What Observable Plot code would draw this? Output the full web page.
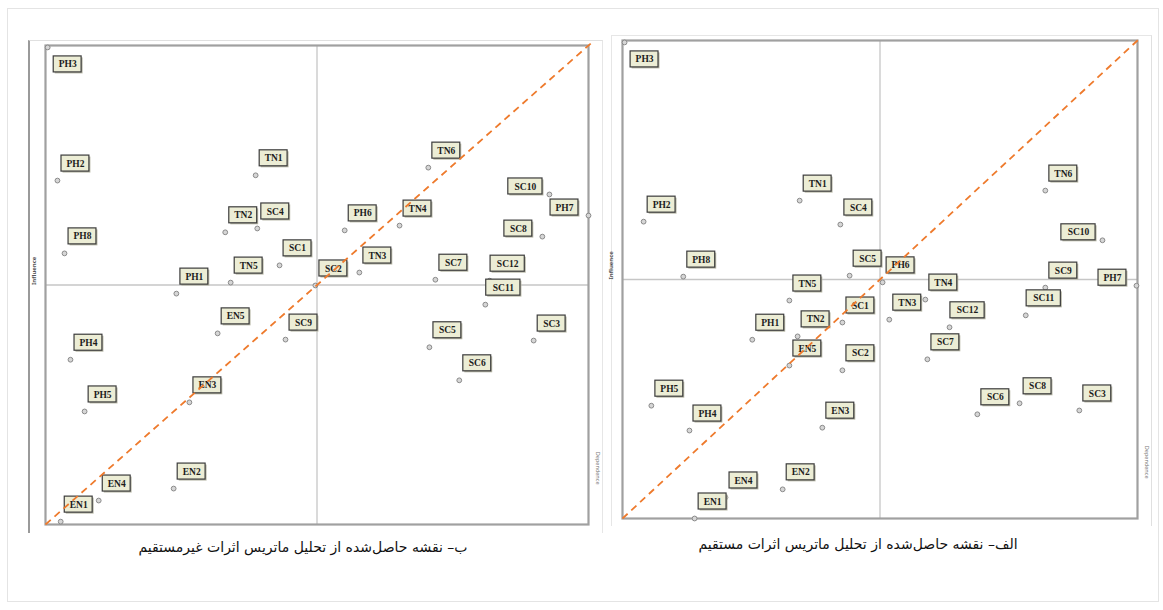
<!DOCTYPE html>
<html><head><meta charset="utf-8">
<script src="https://cdn.jsdelivr.net/npm/d3@7"></script>
<script src="https://cdn.jsdelivr.net/npm/@observablehq/plot@0.6"></script>
<style>
body{margin:0;background:#fff;width:1163px;height:610px;position:relative;overflow:hidden;font-family:"DejaVu Sans",sans-serif}
.abs{position:absolute}
.cap{position:absolute;direction:rtl;font-family:"DejaVu Sans",sans-serif;font-size:14px;color:#111;white-space:nowrap;transform:translateX(-50%)}
</style></head><body>
<div class="abs" style="left:7px;top:8px;width:1150px;height:592px;border:1px solid #e4e4e4"></div>
<div class="abs" style="left:28px;top:40px;width:572px;height:492px;border-left:2px solid #9a9a9a;border-top:1px solid #e0e0e0;border-right:1px solid #e6e6e6"></div>
<div class="abs" style="left:611px;top:35px;width:539px;height:490px;border-left:1px solid #e6e6e6;border-top:1px solid #e6e6e6;border-right:1px solid #e0e0e0"></div>
<div id="left" class="abs" style="left:27px;top:35px"></div>
<div id="right" class="abs" style="left:604px;top:30px"></div>
<div id="capL" class="cap" style="left:303px;top:539px"></div>
<div id="capR" class="cap" style="left:858px;top:536px"></div>
<script>
// ---- Indirect-effects map (ب) ----
const indirectNames = ["PH3","PH2","PH8","PH1","PH4","PH5","EN5","EN3","EN2","EN4","EN1","TN1","TN6","SC10","PH7","SC8","SC4","TN2","TN4","PH6","SC1","TN5","TN3","SC2","SC7","SC12","SC11","SC9","SC3","SC5","SC6"];
const indirectDependence = [0.4,2.2,3.5,24.1,4.6,7.2,31.7,26.5,23.6,9.8,2.8,38.7,70.5,92.8,100,91.5,39.0,33.1,65.2,55.1,43.1,34.1,57.8,49.7,71.8,81.8,81.0,44.2,89.9,70.7,76.2];
const indirectInfluence = [99.6,71.8,56.6,48.2,34.4,23.6,39.9,25.5,7.5,5.0,0.6,72.9,74.5,68.9,64.5,60.1,61.8,61.0,62.4,61.4,54.1,50.5,52.6,49.9,51.1,50.9,45.9,38.6,38.4,37.0,30.1];

// ---- Direct-effects map (الف) ----
const directNames = ["PH3","PH2","PH8","TN1","SC4","SC5","TN5","PH6","TN4","TN3","SC12","SC7","SC11","SC9","PH7","SC10","TN6","SC8","SC3","SC6","PH1","TN2","SC1","EN5","SC2","PH5","PH4","EN3","EN2","EN4","EN1"];
const directDependence = [0.4,4.1,11.8,34.4,42.3,44.1,32.4,50.5,58.8,51.8,63.5,59.2,78.3,82.1,99.8,93.2,82.1,77.1,88.7,68.9,25.2,34.0,42.7,32.4,42.7,5.6,13.0,38.8,31.1,20.0,14.0];
const directInfluence = [99.6,62.1,50.6,66.5,61.5,50.8,45.6,49.4,45.8,41.6,40.0,33.3,42.5,48.3,48.7,58.2,68.6,24.1,22.6,21.8,37.4,38.1,41.0,32.0,31.0,23.6,18.4,19.0,6.1,4.4,0];

const axisLabels = ["Influence","Dependence"];
const captionIndirect = "ب– نقشه حاصل‌شده از تحلیل ماتریس اثرات غیرمستقیم";
const captionDirect = "الف– نقشه حاصل‌شده از تحلیل ماتریس اثرات مستقیم";

function panel(names, dep, inf, W, H) {
  const mL = 18, mR = 12, mT = 10, mB = 12;
  const kx = 100 / W, ky = 100 / H;
  const rows = names.map((n, i) => {
    const d = {name: n, x: dep[i], y: inf[i]};
    let ox = 18, oy = -17;
    if (d.x > 90) { ox = -24; oy = -8; }
    else if (d.y > 95) { ox = 20; oy = 17; }
    const w = 9 + 6.3 * n.length;
    d.lx = d.x + ox * kx; d.ly = d.y - oy * ky;
    d.x1 = d.lx - w / 2 * kx; d.x2 = d.lx + w / 2 * kx;
    d.y1 = d.ly - 8 * ky; d.y2 = d.ly + 8 * ky;
    d.sx1 = d.x1 + 1.5 * kx; d.sx2 = d.x2 + 1.5 * kx; d.sy1 = d.y1 - 1.5 * ky; d.sy2 = d.y2 - 1.5 * ky;
    return d;
  });
  return Plot.plot({
    width: W + mL + mR, height: H + mT + mB,
    marginLeft: mL, marginRight: mR, marginTop: mT, marginBottom: mB,
    x: {domain: [0, 100], axis: null},
    y: {domain: [0, 100], axis: null},
    style: {background: "transparent", overflow: "visible"},
    marks: [
      Plot.ruleX([50], {stroke: "#c6c6c6", strokeWidth: 1.3}),
      Plot.ruleY([50], {stroke: "#c6c6c6", strokeWidth: 1.3}),
      Plot.frame({stroke: "#a0a0a0", strokeWidth: 2.2}),
      Plot.dot(rows, {x: "x", y: "y", r: 2.4, stroke: "#8a8a8a", fill: "#d6d6d6", strokeWidth: 1}),
      Plot.rect(rows, {x1: "sx1", x2: "sx2", y1: "sy1", y2: "sy2", fill: "#b9b9a8"}),
      Plot.rect(rows, {x1: "x1", x2: "x2", y1: "y1", y2: "y2", fill: "#ecedd5", stroke: "#3c3c3c", strokeWidth: 1.2}),
      Plot.text(rows, {x: "lx", y: "ly", text: "name", fontFamily: "Liberation Serif", fontWeight: "bold", fontSize: 9.5, fill: "#1c1c1c"}),
      Plot.text([axisLabels[0]], {frameAnchor: "left", rotate: -90, dx: -11, fontSize: 6, fontWeight: "bold", fill: "#555"}),
      Plot.text([axisLabels[1]], {frameAnchor: "bottom-right", rotate: 90, dx: 7, dy: -40, fontSize: 5.5, fill: "#777"}),
      Plot.link([{a: 0, b: 100.5}], {x1: "a", y1: "a", x2: "b", y2: "b", stroke: "#ee7a2c", strokeWidth: 1.8, strokeDasharray: "7,5", clip: false})
    ]
  });
}

document.getElementById("left").append(panel(indirectNames, indirectDependence, indirectInfluence, 543, 479));
document.getElementById("right").append(panel(directNames, directDependence, directInfluence, 515, 478));
document.getElementById("capL").textContent = captionIndirect;
document.getElementById("capR").textContent = captionDirect;
</script>
</body></html>
